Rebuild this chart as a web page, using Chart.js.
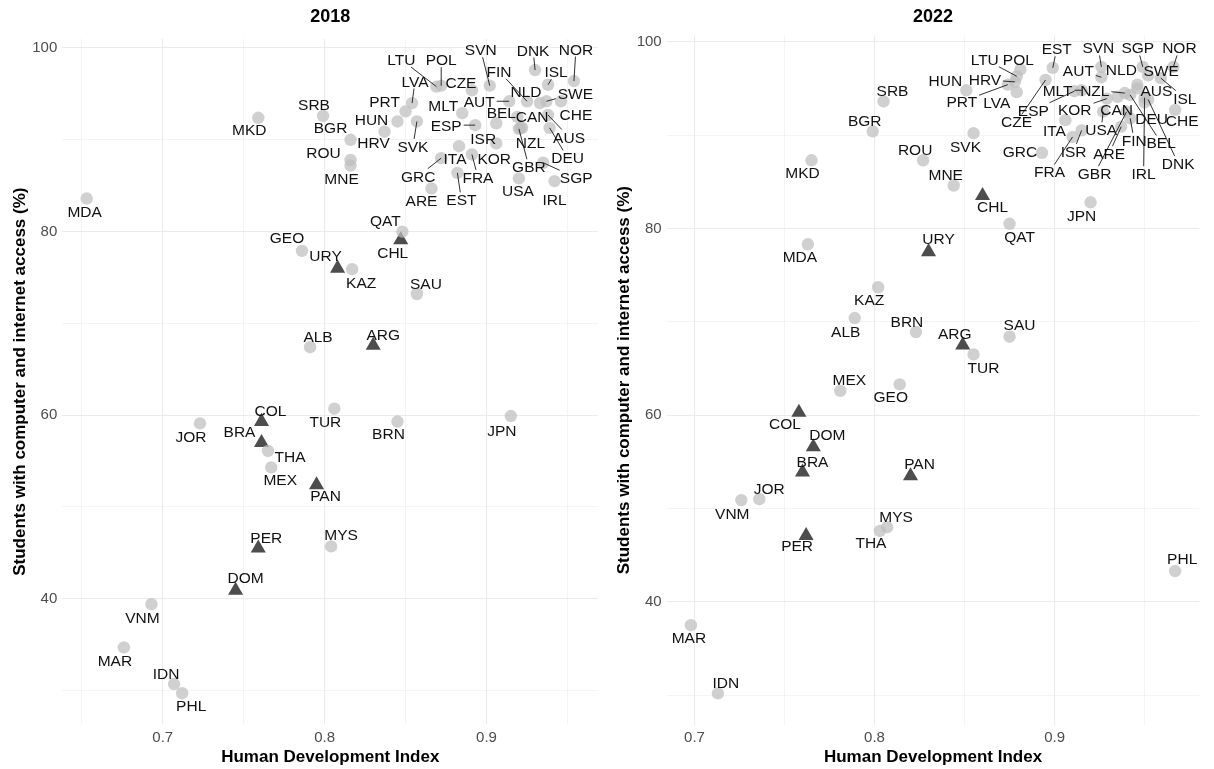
<!DOCTYPE html>
<html><head><meta charset="utf-8">
<script src="https://cdn.jsdelivr.net/npm/chart.js@4.4.1/dist/chart.umd.min.js"></script>
<style>
html,body{margin:0;padding:0;background:#fff;}
#wrap{position:relative;width:1214px;height:769px;overflow:hidden;}
.panel{position:absolute;top:0;width:607px;height:769px;}
</style></head><body>
<div id="wrap">
<div class="panel" style="left:0"><canvas id="c2018" width="607" height="769"></canvas></div>
<div class="panel" style="left:607px"><canvas id="c2022" width="607" height="769"></canvas></div>
</div>
<script>
// ---------- DATA ----------
const countries2018 = ["MDA","MKD","SRB","BGR","ROU","MNE","GEO","URY","KAZ","QAT","CHL","SAU","ALB","ARG","TUR","BRN","JPN","JOR","COL","BRA","THA","MEX","PAN","PER","MYS","DOM","VNM","MAR","IDN","PHL","DNK","NOR","ISL","SVN","LTU","POL","CZE","LVA","PRT","HUN","HRV","SVK","MLT","ESP","AUT","FIN","NLD","SWE","CHE","BEL","CAN","NZL","GBR","AUS","DEU","ISR","KOR","ITA","FRA","GRC","EST","ARE","USA","SGP","IRL"];
const hdi2018 = [0.653,0.759,0.799,0.816,0.816,0.816,0.786,0.808,0.817,0.848,0.847,0.857,0.791,0.830,0.806,0.845,0.915,0.723,0.761,0.761,0.765,0.767,0.795,0.759,0.804,0.745,0.693,0.676,0.707,0.712,0.930,0.954,0.938,0.902,0.869,0.872,0.891,0.854,0.850,0.845,0.837,0.857,0.885,0.893,0.914,0.925,0.933,0.937,0.946,0.919,0.922,0.921,0.920,0.938,0.939,0.906,0.906,0.883,0.891,0.872,0.882,0.866,0.920,0.935,0.942];
const access2018 = [83.6,92.4,92.6,90.0,87.8,87.2,77.9,76.0,75.9,80.0,79.1,73.2,67.4,67.6,60.7,59.3,59.9,59.1,59.3,57.0,56.1,54.3,52.4,45.5,45.7,40.9,39.4,34.7,30.7,29.7,97.6,96.4,96.0,95.9,95.8,95.9,95.4,94.0,93.1,92.0,90.9,92.0,92.9,91.6,94.2,94.2,94.0,94.2,94.2,92.5,91.3,91.3,91.2,92.7,91.3,91.8,89.6,89.3,88.4,88.0,86.4,84.7,85.8,87.5,85.5];

const countries2022 = ["SRB","HUN","BGR","MKD","ROU","MNE","SVK","MDA","URY","CHL","QAT","JPN","KAZ","ALB","BRN","ARG","TUR","SAU","MEX","GEO","COL","DOM","BRA","PAN","JOR","VNM","PER","MYS","THA","MAR","IDN","PHL","GRC","POL","LTU","HRV","PRT","LVA","CZE","EST","SVN","AUT","NLD","SGP","NOR","SWE","AUS","ISL","CHE","DEU","DNK","BEL","IRL","FIN","GBR","ARE","USA","CAN","KOR","NZL","MLT","ESP","ITA","ISR","FRA"];
const hdi2022 = [0.805,0.851,0.799,0.765,0.827,0.844,0.855,0.763,0.830,0.860,0.875,0.920,0.802,0.789,0.823,0.849,0.855,0.875,0.781,0.814,0.758,0.766,0.760,0.820,0.736,0.726,0.762,0.807,0.803,0.698,0.713,0.967,0.893,0.881,0.879,0.878,0.874,0.879,0.895,0.899,0.926,0.926,0.946,0.949,0.966,0.952,0.946,0.959,0.967,0.950,0.952,0.942,0.950,0.942,0.940,0.937,0.927,0.935,0.929,0.939,0.915,0.911,0.906,0.915,0.910];
const access2022 = [93.6,94.8,90.4,87.3,87.3,84.6,90.2,78.3,77.5,83.5,80.5,82.8,73.7,70.4,68.9,67.5,66.5,68.4,62.6,63.3,60.3,56.6,53.9,53.5,51.0,50.9,47.1,48.0,47.6,37.5,30.2,43.3,88.1,97.0,96.3,95.7,95.4,94.6,95.9,97.2,97.3,96.2,95.4,97.3,97.3,96.4,95.0,96.1,92.7,93.5,93.8,94.3,94.0,91.8,92.5,90.9,92.5,94.1,93.9,94.5,94.8,94.7,91.6,90.5,89.8];

// countries drawn as triangles
const triangleGroup = ["URY","CHL","ARG","COL","BRA","PAN","PER","DOM"];

const xTicks = [0.65,0.70,0.75,0.80,0.85,0.90,0.95];
const xTickLabels = ["","0.7","","0.8","","0.9",""];
const yTicks = [30,40,50,60,70,80,90,100];
const yTickLabels = ["","40","","60","","80","","100"];

const xTitle = "Human Development Index";
const yTitle = "Students with computer and internet access (%)";

// ---------- LABEL PLACEMENT (pixel offsets from point: dx, dy, leader segment) ----------
const labelPlacement2018 = {
  MDA:[-2,13,0], MKD:[-9,12,0], SRB:[-9,-11,0], BGR:[-20,-12,0], ROU:[-27,-8,0], MNE:[-9,13,0],
  GEO:[-15,-13,0], URY:[-12,-13,0], KAZ:[9,13,0], QAT:[-17,-11,0], CHL:[-8,13,0], SAU:[9,-11,0],
  ALB:[8,-11,0], ARG:[10,-11,0], TUR:[-9,13,0], BRN:[-9,12,0], JPN:[-9,14,0], JOR:[-9,13,0],
  COL:[9,-11,0], BRA:[-22,-11,0], THA:[22,6,0], MEX:[9,12,0], PAN:[9,11,0], PER:[8,-11,0],
  MYS:[10,-12,0], DOM:[10,-13,0], VNM:[-9,13,0], MAR:[-9,13,0], IDN:[-8,-11,0], PHL:[9,12,0],
  SVN:[-9,-36,1], DNK:[-2,-20,1], NOR:[2,-32,1], LTU:[-35,-27,1], POL:[0,-26,1], ISL:[8,-13,1],
  FIN:[-28,-30,1], LVA:[3,-22,1], CZE:[-11,-8,0], NLD:[-14,-12,0], SWE:[29,-8,1], PRT:[-21,-10,0],
  MLT:[-19,-8,0], AUT:[-30,0,1], CHE:[15,13,0], BEL:[-16,-4,0], CAN:[10,-11,0], ISR:[-13,15,0],
  ESP:[-29,0,1], SVK:[-4,25,1], HRV:[-11,11,0], HUN:[-26,-2,0], GRC:[-23,18,1], ITA:[-4,12,0],
  KOR:[-2,15,0], FRA:[6,23,1], EST:[4,27,1], ARE:[-10,12,0], USA:[-1,12,0], IRL:[0,18,0],
  SGP:[33,15,1], GBR:[10,38,1], NZL:[10,15,0], DEU:[18,30,1], AUS:[21,22,1]
};
const labelPlacement2022 = {
  SRB:[9,-11,0], HUN:[-21,-10,0], BGR:[-8,-11,0], MKD:[-9,12,0], ROU:[-8,-11,0], MNE:[-8,-11,0],
  SVK:[-8,13,0], MDA:[-8,12,0], URY:[10,-13,0], CHL:[10,11,0], QAT:[10,13,0], JPN:[-9,13,0],
  KAZ:[-9,12,0], ALB:[-9,13,0], BRN:[-9,-11,0], ARG:[-8,-12,0], TUR:[10,13,0], SAU:[10,-12,0],
  MEX:[9,-11,0], GEO:[-9,12,0], COL:[-14,11,0], DOM:[14,-12,0], BRA:[10,-11,0], PAN:[9,-12,0],
  JOR:[10,-11,0], VNM:[-9,13,0], PER:[-9,10,0], MYS:[9,-11,0], THA:[-9,12,0], MAR:[-2,12,0],
  IDN:[8,-11,0], PHL:[7,-13,0], GRC:[-22,-1,0],
  POL:[-2,-10,0], LTU:[-32,-17,1], HRV:[-30,-2,1], PRT:[-46,17,1], LVA:[-20,10,0], CZE:[-29,42,1],
  EST:[4,-19,1], SVN:[-3,-19,1], AUT:[-23,-7,1], NLD:[-16,-15,0], SGP:[-5,-19,1], NOR:[6,-19,1],
  SWE:[13,-5,0], AUS:[19,2,0], ISL:[24,20,1], CHE:[7,11,0], DEU:[7,16,0], DNK:[30,64,1],
  BEL:[31,48,1], IRL:[-1,76,1], FIN:[4,22,1], GBR:[-32,62,1], ARE:[-12,27,1], USA:[-2,18,1],
  CAN:[-1,13,0], KOR:[-32,11,1], NZL:[-30,-3,1], MLT:[-24,0,1], ESP:[-41,19,1], ITA:[-11,10,0],
  ISR:[-8,21,1], FRA:[-23,35,1]
};

// ---------- CHART BUILDING ----------
const FONT = '"Liberation Sans", Arial, Helvetica, sans-serif';

const countryLabels = {
  id: 'countryLabels',
  afterDatasetsDraw(chart, args, opts) {
    const ctx = chart.ctx;
    const place = opts.placement || {};
    ctx.save();
    ctx.font = '15.5px ' + FONT;
    const items = [];
    chart.data.datasets.forEach((ds, di) => {
      const meta = chart.getDatasetMeta(di);
      meta.data.forEach((el, i) => {
        const code = ds.codes[i];
        const p = place[code] || [0, -12, 0];
        items.push({code, x: el.x, y: el.y, lx: el.x + p[0], ly: el.y + p[1], seg: p[2]});
      });
    });
    ctx.strokeStyle = '#1a1a1a';
    ctx.lineWidth = 0.9;
    items.forEach(it => {
      if (!it.seg) return;
      const hw = ctx.measureText(it.code).width / 2 + 2, hh = 7.5;
      const dx = it.x - it.lx, dy = it.y - it.ly;
      const s = Math.min(dx ? hw / Math.abs(dx) : Infinity, dy ? hh / Math.abs(dy) : Infinity);
      if (s >= 1) return;
      ctx.beginPath();
      ctx.moveTo(it.lx + dx * s, it.ly + dy * s);
      ctx.lineTo(it.x, it.y);
      ctx.stroke();
    });
    ctx.fillStyle = '#111';
    ctx.textAlign = 'center';
    ctx.textBaseline = 'alphabetic';
    items.forEach(it => ctx.fillText(it.code, it.lx, it.ly + 5.5));
    ctx.restore();
  }
};

function expandRange(arr) {
  const lo = Math.min(...arr), hi = Math.max(...arr), pad = (hi - lo) * 0.05;
  return [lo - pad, hi + pad];
}

function buildChart(canvasId, year, codes, hdi, access, placement, geom) {
  const circ = [], circCodes = [], tri = [], triCodes = [];
  codes.forEach((c, i) => {
    const pt = {x: hdi[i], y: access[i]};
    if (triangleGroup.includes(c)) { tri.push(pt); triCodes.push(c); }
    else { circ.push(pt); circCodes.push(c); }
  });
  const [xmin, xmax] = expandRange(hdi);
  const [ymin, ymax] = expandRange(access);
  return new Chart(document.getElementById(canvasId), {
    type: 'scatter',
    data: {
      datasets: [
        {label: 'other', codes: circCodes, data: circ, pointStyle: 'circle', pointRadius: 6.2,
         backgroundColor: 'rgba(190,190,190,0.72)', borderWidth: 0},
        {label: 'latam', codes: triCodes, data: tri, pointStyle: 'triangle', pointRadius: 8.7,
         backgroundColor: '#4d4d4d', borderWidth: 0}
      ]
    },
    options: {
      responsive: false, animation: false, devicePixelRatio: 1, events: [],
      layout: {padding: {left: 0, right: geom.right, top: 0, bottom: 0}},
      plugins: {
        legend: {display: false}, tooltip: {enabled: false},
        title: {display: true, text: year, fullSize: false, color: '#000',
                font: {family: FONT, size: 18, weight: 'bold'},
                padding: {top: 6, bottom: geom.top - 6 - 21.6}},
        countryLabels: {placement}
      },
      scales: {
        x: {
          type: 'linear', min: xmin, max: xmax,
          afterBuildTicks: s => { s.ticks = xTicks.map(v => ({value: v})); },
          afterFit: s => { s.height = geom.xh; },
          ticks: {autoSkip: false, maxRotation: 0, padding: 4, color: '#4d4d4d',
                  font: {family: FONT, size: 15}, callback: (v, i) => xTickLabels[i]},
          grid: {color: '#ebebeb', drawTicks: false, lineWidth: c => xTickLabels[c.index] ? 1.1 : 0.55},
          border: {display: false},
          title: {display: true, text: xTitle, color: '#000',
                  font: {family: FONT, size: 17, weight: 'bold'}, padding: {top: 0, bottom: 1}}
        },
        y: {
          type: 'linear', min: ymin, max: ymax,
          afterBuildTicks: s => { s.ticks = yTicks.map(v => ({value: v})); },
          afterFit: s => { s.width = geom.yw; },
          ticks: {autoSkip: false, padding: 5, color: '#4d4d4d',
                  font: {family: FONT, size: 15}, callback: (v, i) => yTickLabels[i]},
          grid: {color: '#ebebeb', drawTicks: false, lineWidth: c => yTickLabels[c.index] ? 1.1 : 0.55},
          border: {display: false},
          title: {display: true, text: yTitle, color: '#000',
                  font: {family: FONT, size: 17, weight: 'bold'}, padding: {top: geom.ytp, bottom: 0}}
        }
      }
    },
    plugins: [countryLabels]
  });
}

buildChart('c2018', '2018', countries2018, hdi2018, access2018, labelPlacement2018,
           {right: 6, top: 38.9, xh: 44.6, yw: 62.3, ytp: 10.3});
buildChart('c2022', '2022', countries2022, hdi2022, access2022, labelPlacement2022,
           {right: 14.6, top: 35.6, xh: 44.3, yw: 56, ytp: 3.3});
</script>
</body></html>
